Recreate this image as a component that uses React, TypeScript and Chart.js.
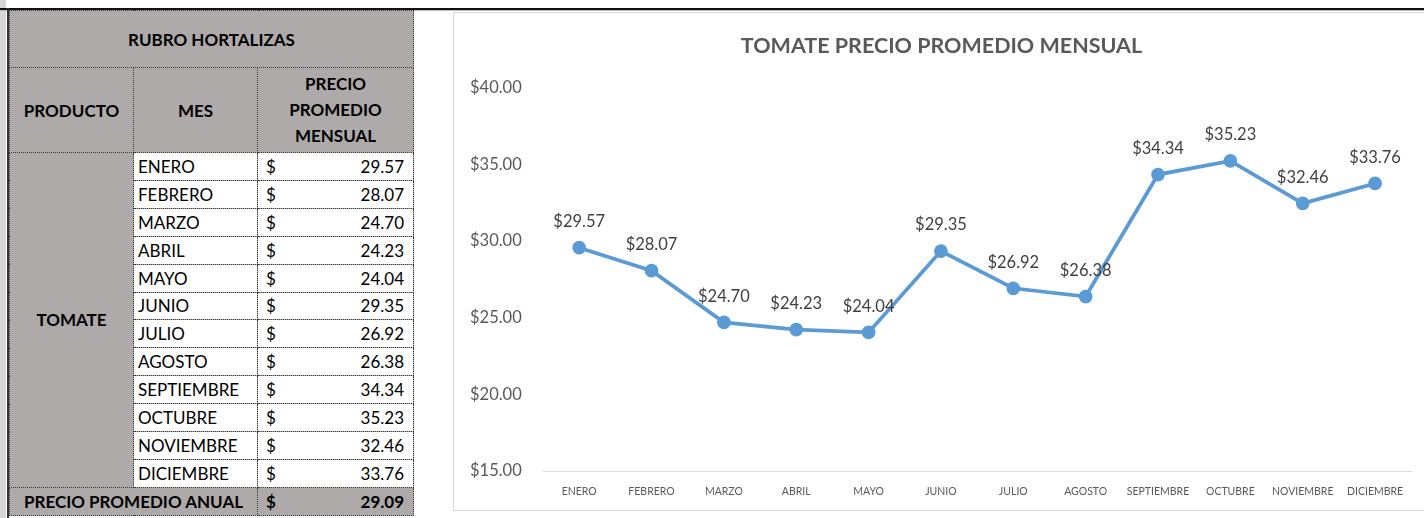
import React, { useEffect, useRef } from "react";
import { Chart, registerables } from "chart.js";

Chart.register(...registerables);

const MONTHS: string[] = [
  "ENERO", "FEBRERO", "MARZO", "ABRIL", "MAYO", "JUNIO",
  "JULIO", "AGOSTO", "SEPTIEMBRE", "OCTUBRE", "NOVIEMBRE", "DICIEMBRE",
];
const PRICES: number[] = [29.57, 28.07, 24.7, 24.23, 24.04, 29.35, 26.92, 26.38, 34.34, 35.23, 32.46, 33.76];
const ANNUAL_AVERAGE = 29.09;
const PRODUCT = "TOMATE";
const TABLE_TITLE = "RUBRO HORTALIZAS";
const CHART_TITLE = "TOMATE PRECIO PROMEDIO MENSUAL";
const Y_MIN = 15;
const Y_MAX = 40;
const Y_STEP = 5;

const FONT = "Lato, 'Noto Sans', sans-serif";
const HEADER_BG = "#aeaaaa";
const CELL_BORDER = "1px dotted #3a3a3a";

const money = (v: number) => "$" + v.toFixed(2);

const labelPlugin = {
  id: "pointLabels",
  afterDatasetsDraw(chart: any) {
    const ctx = chart.ctx;
    const meta = chart.getDatasetMeta(0);
    const data = chart.data.datasets[0].data as number[];
    ctx.save();
    ctx.font = `16.5px ${FONT}`;
    ctx.fillStyle = "#404040";
    ctx.textAlign = "center";
    ctx.textBaseline = "middle";
    meta.data.forEach((pt: any, i: number) => {
      ctx.fillText(money(data[i]), pt.x, pt.y - 26);
    });
    ctx.restore();
  },
};

function PriceChart() {
  const ref = useRef<HTMLCanvasElement | null>(null);
  useEffect(() => {
    if (!ref.current) return;
    const chart = new Chart(ref.current, {
      type: "line",
      data: {
        labels: MONTHS,
        datasets: [
          {
            data: PRICES,
            borderColor: "#5b9bd5",
            backgroundColor: "#5b9bd5",
            borderWidth: 3.75,
            pointRadius: 5,
            pointBackgroundColor: "#5b9bd5",
            pointBorderColor: "#5b9bd5",
            tension: 0,
            fill: false,
          },
        ],
      },
      options: {
        animation: false,
        responsive: false,
        maintainAspectRatio: false,
        layout: { padding: { left: 16, right: 7, top: 0, bottom: 0 } },
        plugins: {
          legend: { display: false },
          tooltip: { enabled: false },
          title: {
            display: true,
            text: CHART_TITLE,
            color: "#595959",
            font: { family: FONT, size: 21.5, weight: "bold" },
            padding: { top: 20, bottom: 29 },
          },
        },
        scales: {
          x: {
            offset: true,
            grid: { display: false, drawTicks: false, offset: true },
            border: { display: true, color: "#d9d9d9", width: 1 },
            afterFit: (scale: any) => {
              scale.height = 39;
            },
            ticks: {
              color: "#595959",
              font: { family: FONT, size: 10.5 },
              padding: 14,
              autoSkip: false,
              maxRotation: 0,
              minRotation: 0,
            },
          },
          y: {
            min: Y_MIN,
            max: Y_MAX,
            grid: { display: false, drawTicks: false },
            border: { display: false },
            afterFit: (scale: any) => {
              scale.width = 73;
            },
            ticks: {
              stepSize: Y_STEP,
              crossAlign: "far",
              color: "#595959",
              font: { family: FONT, size: 16.5 },
              callback: (v: any) => money(Number(v)),
            },
          },
        },
      },
      plugins: [labelPlugin],
    });
    return () => chart.destroy();
  }, []);
  return <canvas ref={ref} width={966} height={497} style={{ display: "block" }} />;
}

const tdBase: React.CSSProperties = {
  border: CELL_BORDER,
  padding: 0,
  fontFamily: FONT,
  fontSize: 17,
  color: "#000",
  overflow: "hidden",
  whiteSpace: "nowrap",
};

function PriceTable() {
  const dataRowH = (487 - 152) / 12;
  return (
    <table
      style={{
        position: "absolute",
        left: 9,
        top: 10,
        width: 404,
        borderCollapse: "collapse",
        tableLayout: "fixed",
        background: HEADER_BG,
      }}
    >
      <colgroup>
        <col style={{ width: 124 }} />
        <col style={{ width: 124 }} />
        <col style={{ width: 156 }} />
      </colgroup>
      <tbody>
        <tr style={{ height: 57 }}>
          <td colSpan={3} style={{ ...tdBase, textAlign: "center", fontWeight: "bold" }}>
            {TABLE_TITLE}
          </td>
        </tr>
        <tr style={{ height: 85 }}>
          <td style={{ ...tdBase, textAlign: "center", fontWeight: "bold" }}>PRODUCTO</td>
          <td style={{ ...tdBase, textAlign: "center", fontWeight: "bold" }}>MES</td>
          <td style={{ ...tdBase, textAlign: "center", fontWeight: "bold", lineHeight: "26px", whiteSpace: "normal" }}>
            PRECIO
            <br />
            PROMEDIO
            <br />
            MENSUAL
          </td>
        </tr>
        {MONTHS.map((m, i) => (
          <tr key={m} style={{ height: dataRowH }}>
            {i === 0 && (
              <td rowSpan={MONTHS.length} style={{ ...tdBase, textAlign: "center", fontWeight: "bold" }}>
                {PRODUCT}
              </td>
            )}
            <td style={{ ...tdBase, background: "#fff", paddingLeft: 4 }}>{m}</td>
            <td style={{ ...tdBase, background: "#fff" }}>
              <div style={{ display: "flex", justifyContent: "space-between", padding: "0 9px 0 8px" }}>
                <span>$</span>
                <span>{PRICES[i].toFixed(2)}</span>
              </div>
            </td>
          </tr>
        ))}
        <tr style={{ height: 28 }}>
          <td colSpan={2} style={{ ...tdBase, textAlign: "center", fontWeight: "bold" }}>
            PRECIO PROMEDIO ANUAL
          </td>
          <td style={{ ...tdBase, fontWeight: "bold" }}>
            <div style={{ display: "flex", justifyContent: "space-between", padding: "0 9px 0 8px" }}>
              <span>$</span>
              <span>{ANNUAL_AVERAGE.toFixed(2)}</span>
            </div>
          </td>
        </tr>
      </tbody>
    </table>
  );
}

export default function App() {
  return (
    <div
      style={{
        position: "absolute",
        left: 0,
        top: 0,
        width: 1424,
        height: 518,
        background: "#fff",
        overflow: "hidden",
      }}
    >
      <div style={{ position: "absolute", left: 0, top: 0, width: 6, height: 518, background: "#d6d6d6" }} />
      <div style={{ position: "absolute", left: 0, top: 8, width: 1424, height: 2, background: "#111" }} />
      <div style={{ position: "absolute", left: 0, top: 10, width: 1424, height: 1, background: "#bdbdbd" }} />
      <div style={{ position: "absolute", left: 7, top: 8, width: 2, height: 510, background: "#333" }} />
      <PriceTable />
      <div
        style={{
          position: "absolute",
          left: 453,
          top: 12,
          width: 980,
          height: 497,
          border: "1px solid #d9d9d9",
          background: "#fff",
        }}
      >
        <PriceChart />
      </div>
    </div>
  );
}
